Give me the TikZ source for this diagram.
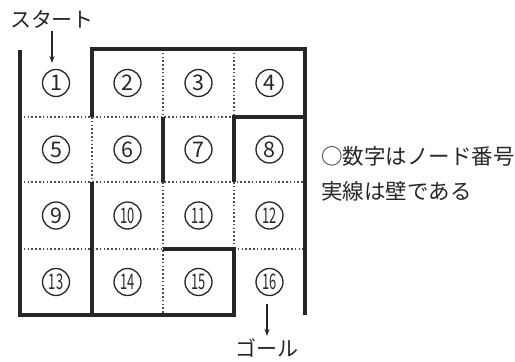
\documentclass[tikz,border=0pt]{standalone}
\usepackage{fontspec}
\setmainfont{Noto Sans CJK JP}
\usetikzlibrary{arrows.meta}
\begin{document}
\begin{tikzpicture}[x=1pt,y=-1pt,
  wall/.style={line width=3.3pt, draw=black!85, line join=miter},
  gridline/.style={line width=1.6pt, draw=black!70, dash pattern=on 1.6pt off 2.2pt},
  num/.style={circle, draw=black!85, line width=1.3pt, minimum size=27pt, inner sep=0pt,
    font=\fontsize{21.5}{21.5}\selectfont, text=black!85},
  lbl/.style={font=\fontsize{21}{21}\selectfont, inner sep=0pt, text=black!85},
  leg/.style={font=\fontsize{21.5}{22}\selectfont, inner sep=0pt, text=black!85, anchor=west},
  arr/.style={line width=1.1pt, draw=black!85, -{Stealth[length=7pt,width=5pt]}}]
\useasboundingbox (0,0) rectangle (515,362);
\newcommand{\twod}[1]{\scalebox{0.6}[1]{#1}}
% dotted grid
\draw[gridline] (20,117) -- (233,117);
\draw[gridline] (20,182) -- (305,182);
\draw[gridline] (20,249) -- (163,249);
\draw[gridline] (234,249) -- (305,249);
\draw[gridline] (92,117) -- (92,182);
\draw[gridline] (163,49) -- (163,117);
\draw[gridline] (163,182) -- (163,315);
\draw[gridline] (234,49) -- (234,117);
\draw[gridline] (234,182) -- (234,249);
% walls
\draw[wall] (20,50) -- (20,315) -- (234,315) -- (234,249) -- (163,249);
\draw[wall] (92,117) -- (92,49) -- (305,49) -- (305,315);
\draw[wall] (163,117) -- (163,182);
\draw[wall] (305,117) -- (234,117) -- (234,182);
\draw[wall] (92,182) -- (92,315);
% numbers
\node[num] (n1) at (56,83) {1};
\node[num] (n2) at (127.5,83) {2};
\node[num] (n3) at (198.5,83) {3};
\node[num] (n4) at (269.5,83) {4};
\node[num] (n5) at (56,149.5) {5};
\node[num] (n6) at (127.5,149.5) {6};
\node[num] (n7) at (198.5,149.5) {7};
\node[num] (n8) at (269.5,149.5) {8};
\node[num] (n9) at (56,215.5) {9};
\node[num] (n10) at (127.5,215.5) {\twod{10}};
\node[num] (n11) at (198.5,215.5) {\twod{11}};
\node[num] (n12) at (269.5,215.5) {\twod{12}};
\node[num] (n13) at (56,282) {\twod{13}};
\node[num] (n14) at (127.5,282) {\twod{14}};
\node[num] (n15) at (198.5,282) {\twod{15}};
\node[num] (n16) at (269.5,282) {\twod{16}};
% start / goal
\node[lbl] (start) at (52,19) {スタート};
\coordinate (starttip) at (52,63);
\draw[arr] (52,31) -- (starttip);
\node[lbl] (goal) at (267,348) {ゴール};
\coordinate (goaltop) at (267,304);
\draw[arr] (goaltop) -- (267,336);
% legend
\node[leg] (leg1) at (321,156) {○数字はノード番号};
\node[leg] (leg2) at (321,191) {実線は壁である};
\end{tikzpicture}
\end{document}
